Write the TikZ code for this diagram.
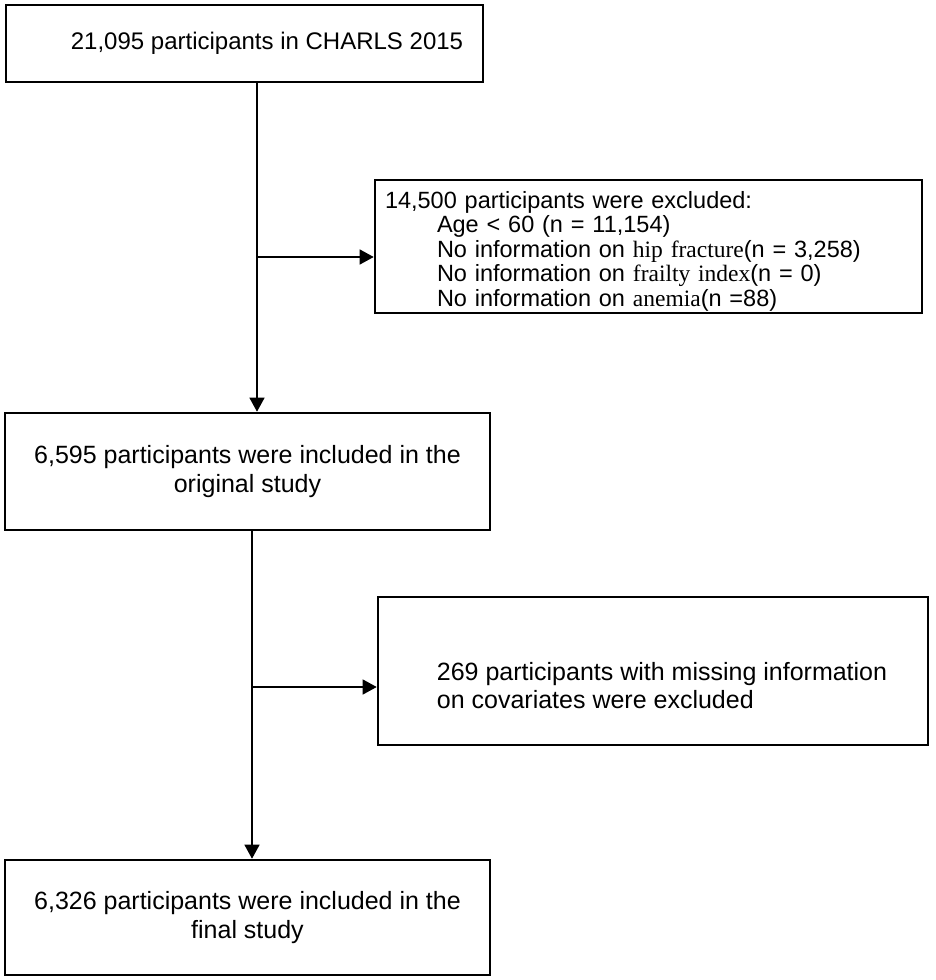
\documentclass[tikz,border=0pt]{standalone}
\usepackage{fontspec}
\setmainfont{Liberation Sans}
\newfontfamily\timesfont{Liberation Serif}
\usepackage{tikz}
\usetikzlibrary{arrows.meta}

\begin{document}
\begin{tikzpicture}[x=1pt, y=-1pt,
    box/.style={draw, line width=2.6pt, inner sep=0pt},
    flow/.style={line width=1.3pt},
    arr/.style={flow, -{Triangle[length=14pt, width=15pt]}}]
    \useasboundingbox (0,0) rectangle (935,980);

    % Cohort
    \node[box, minimum width=477, minimum height=77, font=\fontsize{24}{28}\selectfont] (cohort) at (244.5,43.5)
        {\hspace*{45pt}21,095 participants in CHARLS 2015};

    % First exclusion
    \node[box, minimum height=133, text width=527, inner xsep=10pt, align=left,
          font=\fontsize{23.5}{24.5}\selectfont] (excl1) at (648.5,246.5)
        {\rule{0pt}{26pt}14,500 participants were excluded:\\
         \hspace*{52pt}Age < 60 (n = 11,154)\\
         \hspace*{52pt}No information on {\timesfont hip fracture}(n = 3,258)\\
         \hspace*{52pt}No information on {\timesfont frailty index}(n = 0)\\
         \hspace*{52pt}No information on {\timesfont anemia}(n =88)};

    % Original study
    \node[box, minimum width=485, minimum height=117, align=center,
          font=\fontsize{25}{29}\selectfont] (orig) at (247.5,471.5)
        {6,595 participants were included in the\\original study};

    % Second exclusion
    \node[box, minimum width=550, minimum height=148, align=left,
          font=\fontsize{25}{28}\selectfont] (excl2) at (653,671)
        {\rule{0pt}{48pt}\hspace*{18pt}269 participants with missing information\\
         \hspace*{18pt}on covariates were excluded};

    % Final study
    \node[box, minimum width=485, minimum height=115, align=center,
          font=\fontsize{25}{29}\selectfont] (final) at (247.5,917.5)
        {6,326 participants were included in the\\final study};

    % Branch points
    \coordinate (split1) at (257,257);
    \coordinate (split2) at (252,687);

    % Connectors
    \draw[arr] (cohort.south -| split1) -- (split1 |- orig.north);
    \draw[arr] (split1) -- (split1 -| excl1.west);
    \draw[arr] (orig.south -| split2) -- (split2 |- final.north);
    \draw[arr] (split2) -- (split2 -| excl2.west);
\end{tikzpicture}
\end{document}
